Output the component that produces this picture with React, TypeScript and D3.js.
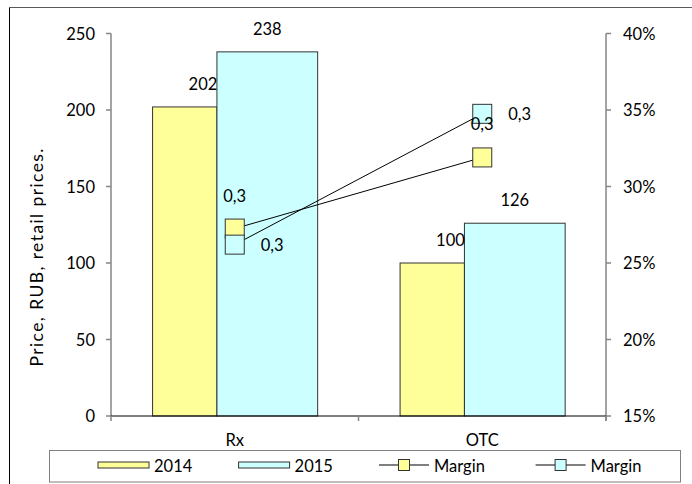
import * as d3 from "d3";

const W = 692;
const H = 484;
const PLOT = { left: 111, right: 606, top: 33.5, bottom: 416 };
const FONT = "Lato, 'Open Sans', sans-serif";

// data
const CATEGORIES = ["Rx", "OTC"];
const PRICE_2014 = [202, 100];
const PRICE_2015 = [238, 126];
const MARGIN_2014 = [0.2725, 0.319];
const MARGIN_2015 = [0.262, 0.3475];
const PRICE_TICKS = [0, 50, 100, 150, 200, 250];
const MARGIN_TICKS = [0.15, 0.2, 0.25, 0.3, 0.35, 0.4];

const YELLOW = "#FFFF99";
const CYAN = "#CCFFFF";
const EDGE = "#333333";
const AXIS_GREY = "#868686";

// where each year's bar sits inside a category band (fractions of the band)
const BAR_SLOTS = [
  { values: PRICE_2014, from: 0.168, to: 0.428, color: YELLOW, labelDx: -14 },
  { values: PRICE_2015, from: 0.428, to: 0.835, color: CYAN, labelDx: null },
];

const MARGIN_SERIES = [
  { values: MARGIN_2014, color: YELLOW, label: "above" },
  { values: MARGIN_2015, color: CYAN, label: "right" },
];

const LEGEND = [
  { kind: "bar", text: "2014", color: YELLOW, x: 98 },
  { kind: "bar", text: "2015", color: CYAN, x: 238.6 },
  { kind: "line", text: "Margin", color: YELLOW, x: 379 },
  { kind: "line", text: "Margin", color: CYAN, x: 535.6 },
];

const commaFmt = d3
  .formatLocale({ decimal: ",", thousands: " ", grouping: [3], currency: ["", ""] })
  .format(".1f");
const pctFmt = d3.format(".0%");

export default function App() {
  const x = d3.scaleBand().domain(CATEGORIES).range([PLOT.left, PLOT.right]).padding(0);
  const bw = x.bandwidth();
  const y = d3.scaleLinear().domain([0, 250]).range([PLOT.bottom, PLOT.top]);
  const y2 = d3.scaleLinear().domain([0.15, 0.4]).range([PLOT.bottom, PLOT.top]);
  const cx = (c: string) => (x(c) ?? 0) + bw / 2;
  const MK = 19;

  const line = d3
    .line<number>()
    .x((_, i) => cx(CATEGORIES[i]))
    .y((v) => y2(v));

  return (
    <svg
      width={W}
      height={H}
      style={{ position: "absolute", left: 0, top: 0, background: "#fff" }}
      fontFamily={FONT}
    >
      {/* outer frame, cut by the page edge */}
      <line x1={9.5} x2={W} y1={7.5} y2={7.5} stroke="#595959" />
      <line x1={9.5} x2={9.5} y1={7.5} y2={H} stroke="#000" />

      {/* bars */}
      {BAR_SLOTS.map((slot, si) =>
        CATEGORIES.map((c, i) => {
          const x0 = (x(c) ?? 0) + slot.from * bw;
          const x1 = (x(c) ?? 0) + slot.to * bw;
          const v = slot.values[i];
          return (
            <rect
              key={`b-${si}-${c}`}
              x={x0}
              y={y(v)}
              width={x1 - x0}
              height={y(0) - y(v)}
              fill={slot.color}
              stroke={EDGE}
              strokeWidth={1}
            />
          );
        })
      )}
      {BAR_SLOTS.map((slot, si) =>
        CATEGORIES.map((c, i) => {
          const x0 = (x(c) ?? 0) + slot.from * bw;
          const x1 = (x(c) ?? 0) + slot.to * bw;
          const v = slot.values[i];
          const lx = slot.labelDx == null ? (x0 + x1) / 2 : x1 + slot.labelDx;
          return (
            <text key={`bl-${si}-${c}`} x={lx} y={y(v) - 17} textAnchor="middle" fontSize={16.5} fill="#000">
              {v}
            </text>
          );
        })
      )}

      {/* left axis */}
      <line x1={PLOT.left} x2={PLOT.left} y1={PLOT.top} y2={PLOT.bottom} stroke={AXIS_GREY} strokeWidth={1.5} />
      {PRICE_TICKS.map((t) => (
        <g key={`yl-${t}`}>
          <line x1={PLOT.left - 5} x2={PLOT.left} y1={y(t)} y2={y(t)} stroke={AXIS_GREY} strokeWidth={1.5} />
          <text x={PLOT.left - 16} y={y(t) + 6} textAnchor="end" fontSize={16.5} fill="#000">
            {t}
          </text>
        </g>
      ))}
      <text
        transform={`translate(43 257.5) rotate(-90)`}
        textAnchor="middle"
        fontSize={17.5}
        textLength={218}
        lengthAdjust="spacing"
        fill="#000"
      >
        Price, RUB, retail prices.
      </text>

      {/* right axis */}
      <line x1={PLOT.right} x2={PLOT.right} y1={PLOT.top} y2={PLOT.bottom + 5} stroke={AXIS_GREY} strokeWidth={1.5} />
      {MARGIN_TICKS.map((t) => (
        <g key={`yr-${t}`}>
          <line x1={PLOT.right} x2={PLOT.right + 5} y1={y2(t)} y2={y2(t)} stroke={AXIS_GREY} strokeWidth={1.5} />
          <text x={PLOT.right + 17} y={y2(t) + 6} textAnchor="start" fontSize={16.5} fill="#000">
            {pctFmt(t)}
          </text>
        </g>
      ))}

      {/* x axis */}
      <line x1={PLOT.left} x2={PLOT.right} y1={PLOT.bottom} y2={PLOT.bottom} stroke="#000" />
      {[PLOT.left, PLOT.left + bw, PLOT.right].map((tx) => (
        <line key={`xt-${tx}`} x1={tx} x2={tx} y1={PLOT.bottom} y2={PLOT.bottom + 5} stroke={AXIS_GREY} strokeWidth={1.5} />
      ))}
      {CATEGORIES.map((c) => (
        <text key={`xl-${c}`} x={cx(c)} y={446} textAnchor="middle" fontSize={16.5} fill="#000">
          {c}
        </text>
      ))}

      {/* margin lines and markers */}
      {MARGIN_SERIES.map((s, si) => (
        <path key={`ml-${si}`} d={line(s.values) || ""} fill="none" stroke="#000" strokeWidth={1} />
      ))}
      {MARGIN_SERIES.map((s, si) =>
        s.values.map((v, i) => (
          <rect
            key={`mk-${si}-${i}`}
            x={cx(CATEGORIES[i]) - MK / 2}
            y={y2(v) - MK / 2}
            width={MK}
            height={MK}
            fill={s.color}
            stroke={EDGE}
            strokeWidth={1}
          />
        ))
      )}
      {MARGIN_SERIES.map((s, si) =>
        s.values.map((v, i) => {
          const px = cx(CATEGORIES[i]);
          const py = y2(v);
          return s.label === "above" ? (
            <text key={`mt-${si}-${i}`} x={px} y={py - 27} textAnchor="middle" fontSize={16.5} fill="#000">
              {commaFmt(v)}
            </text>
          ) : (
            <text key={`mt-${si}-${i}`} x={px + 26} y={py + 6.5} textAnchor="start" fontSize={16.5} fill="#000">
              {commaFmt(v)}
            </text>
          );
        })
      )}

      {/* legend */}
      <rect x={49.5} y={450.5} width={631} height={31.5} fill="#fff" stroke="#808080" />
      {LEGEND.map((item, i) => (
        <g key={`lg-${i}`}>
          {item.kind === "bar" ? (
            <>
              <rect x={item.x} y={462} width={51} height={6} fill={item.color} stroke={EDGE} />
              <text x={item.x + 56} y={472} fontSize={16.5} fill="#000">
                {item.text}
              </text>
            </>
          ) : (
            <>
              <line x1={item.x} x2={item.x + 50} y1={465} y2={465} stroke="#000" />
              <rect x={item.x + 19.5} y={459.5} width={11} height={11} fill={item.color} stroke={EDGE} />
              <text x={item.x + 55} y={472} fontSize={16.5} fill="#000">
                {item.text}
              </text>
            </>
          )}
        </g>
      ))}
    </svg>
  );
}
